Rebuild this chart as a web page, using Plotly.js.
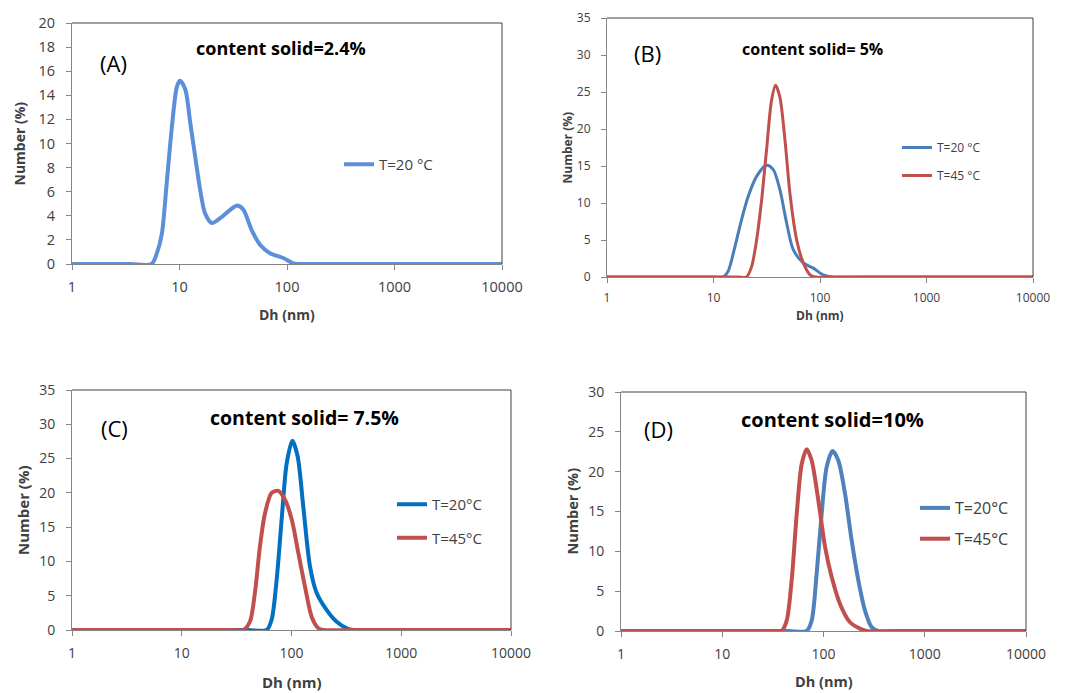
<!DOCTYPE html>
<html>
<head>
<meta charset="utf-8">
<script src="https://cdn.plot.ly/plotly-3.0.1.min.js"></script>
<style>html,body{margin:0;padding:0;background:#fff;}#chart{width:1069px;height:693px;}</style>
</head>
<body>
<div id="chart"></div>
<script>
// Panel A (content solid = 2.4%), T = 20 °C
const dhA_20 = [1, 2, 3.5, 5.5, 6.16, 6.85, 7.6, 8.5, 9.45, 10.1, 11.3, 12.6, 14, 15.6, 17.3, 20, 23.9, 29.6, 34.6, 39.3, 47, 56.1, 69.5, 92.4, 114.6, 132, 250, 600, 1500, 4000, 10000];
const numA_20 = [0, 0, 0, 0, 0.9, 2.5, 6.7, 11.4, 14.7, 15.2, 14.5, 11.7, 8.9, 6.1, 4.2, 3.4, 3.8, 4.5, 4.85, 4.5, 2.8, 1.6, 0.9, 0.5, 0.05, 0, 0, 0, 0, 0, 0];

// Panel B (content solid = 5%)
const dhB_20 = [1, 2.5, 6, 10, 12.3, 13.7, 15.9, 18.3, 21.2, 25.4, 31.5, 36.4, 42, 48.6, 56.1, 69.7, 86.5, 107, 133, 250, 600, 1500, 4000, 10000];
const numB_20 = [0, 0, 0, 0, 0, 0.76, 4.1, 7.7, 10.9, 13.6, 15.1, 14.5, 11.8, 7.3, 3.7, 1.9, 1.2, 0.3, 0, 0, 0, 0, 0, 0];
const dhB_45 = [1, 2.5, 6, 12, 17, 20.4, 22.8, 25.4, 28.3, 31.5, 35.1, 38.3, 42, 46.9, 52.2, 60.4, 69.7, 80.5, 89.7, 150, 400, 1000, 3000, 10000];
const numB_45 = [0, 0, 0, 0, 0, 0, 1.4, 5.0, 10.4, 17.2, 23.9, 25.9, 24.3, 18.5, 11.3, 5.0, 1.9, 0.3, 0, 0, 0, 0, 0, 0];

// Panel C (content solid = 7.5%)
const dhC_20 = [1, 3, 8, 20, 40, 59.3, 65.9, 73.2, 81.3, 90.4, 101.9, 113.8, 128, 147.5, 169.7, 209.5, 258, 318.8, 366, 700, 1500, 4000, 10000];
const numC_20 = [0, 0, 0, 0, 0, 0, 1.5, 7.3, 16.1, 24.3, 27.6, 25.3, 18.0, 9.25, 5.4, 2.9, 1.2, 0.25, 0, 0, 0, 0, 0];
const dhC_45 = [1, 3, 8, 20, 30, 36.3, 41.8, 46.4, 51.6, 57.3, 65.9, 75.9, 87.3, 100.5, 115.5, 132.8, 152.8, 175.8, 195, 350, 900, 3000, 10000];
const numC_45 = [0, 0, 0, 0, 0, 0, 1.2, 5.4, 12.2, 17.0, 20.0, 20.3, 19.0, 16.1, 11.2, 6.3, 1.9, 0.25, 0, 0, 0, 0, 0];

// Panel D (content solid = 10%)
const dhD_20 = [1, 3, 8, 20, 45, 68.2, 76.4, 85.6, 95.9, 107.5, 123, 140, 162.8, 189.6, 220.6, 256.7, 298.5, 347.5, 700, 1500, 4000, 10000];
const numD_20 = [0, 0, 0, 0, 0, 0, 1.3, 7.2, 14.7, 20.6, 22.6, 21.4, 17.3, 11.4, 6.4, 2.6, 0.5, 0, 0, 0, 0, 0];
const dhD_45 = [1, 3, 8, 20, 32, 38.5, 43.3, 48.5, 54.4, 61, 68.3, 76.4, 88.9, 103.5, 120.3, 145.5, 182.7, 229, 267, 500, 1200, 3500, 10000];
const numD_45 = [0, 0, 0, 0, 0, 0, 1.3, 6.4, 14.7, 21.0, 22.8, 21.4, 16.4, 10.6, 6.8, 3.4, 1.1, 0.3, 0, 0, 0, 0, 0];

const panelLabels = ['(A)', '(B)', '(C)', '(D)'];
const panelTitles = ['content solid=2.4%', 'content solid= 5%', 'content solid= 7.5%', 'content solid=10%'];
const legendNames = [['T=20 °C'], ['T=20 °C', 'T=45 °C'], ['T=20°C', 'T=45°C'], ['T=20°C', 'T=45°C']];
const yMax = [20, 35, 35, 30];
const yStep = [2, 5, 5, 5];
const xTickVals = [1, 10, 100, 1000, 10000];
const xTickText = ['1', '10', '100', '1000', '10000'];
const xTitle = 'Dh (nm)';
const yTitle = 'Number (%)';

const W = 1069, H = 693;
const FONT = '"Open Sans", Lato, sans-serif';
const TXT = '#404040';
// plot boxes in pixels: [left, right, top, bottom]
const boxes = [[72, 502, 23, 264], [607, 1033, 18, 277], [72, 511, 390, 630], [621, 1026, 392, 631]];
const tickSize = [14.5, 12, 14, 14];
const axTitleSize = [14, 12, 15, 14.5];
const titleSize = [18, 16, 19.5, 20];
const legendSize = [15, 12, 15, 16];
const legendPos = [[339, 148], [897, 133], [392, 488], [915, 491]];
const legendGap = [0, 9, 11, 7];
const blue = ['#5B8FD9', '#4A7EBB', '#0070C0', '#4F81BD'];
const red = '#C0504D';
const lw = [4, 3, 4, 4];

const series = [
  [[dhA_20, numA_20]],
  [[dhB_20, numB_20], [dhB_45, numB_45]],
  [[dhC_20, numC_20], [dhC_45, numC_45]],
  [[dhD_20, numD_20], [dhD_45, numD_45]]
];

const data = [];
const layout = {
  width: W, height: H,
  margin: {l: 0, r: 0, t: 0, b: 0},
  paper_bgcolor: '#fff', plot_bgcolor: '#fff',
  font: {family: FONT, color: TXT},
  showlegend: true,
  annotations: [], shapes: []
};

const xTitlePos = [314, 316, 682, 681];
const yTitlePos = [19, 567, 23, 572];

for (let p = 0; p < 4; p++) {
  const [l, r, t, b] = boxes[p];
  const sfx = p === 0 ? '' : String(p + 1);
  const xa = 'x' + sfx, ya = 'y' + sfx;
  const leg = 'legend' + sfx;
  series[p].forEach((s, i) => {
    data.push({
      x: s[0], y: s[1], type: 'scatter', mode: 'lines',
      name: legendNames[p][i], showlegend: true,
      xaxis: xa, yaxis: ya, legend: leg,
      legendgroup: 'g' + p + '_' + i,
      line: {color: i === 0 ? blue[p] : red, width: lw[p], shape: 'spline', smoothing: 0.8}
    });
  });
  const axisCommon = {
    showgrid: false, zeroline: false, showline: true, linecolor: '#868686', linewidth: 1,
    ticks: 'outside', ticklen: 5, tickcolor: '#868686',
    tickfont: {family: FONT, size: tickSize[p], color: TXT}
  };
  layout['xaxis' + sfx] = Object.assign({}, axisCommon, {
    type: 'log', range: [0, 4], anchor: ya,
    domain: [l / W, r / W],
    tickvals: xTickVals, ticktext: xTickText, ticklabelstandoff: 5
  });
  layout['yaxis' + sfx] = Object.assign({}, axisCommon, {
    range: [0, yMax[p]], anchor: xa, dtick: yStep[p], tick0: 0,
    domain: [1 - b / H, 1 - t / H], ticklabelstandoff: 8
  });
  layout[leg] = {
    x: legendPos[p][0] / W, y: 1 - legendPos[p][1] / H, xanchor: 'left', yanchor: 'top',
    bgcolor: 'rgba(0,0,0,0)', font: {family: FONT, size: legendSize[p], color: TXT},
    tracegroupgap: legendGap[p], traceorder: 'grouped'
  };
  // frame (top & right)
  layout.shapes.push({type: 'line', xref: xa + ' domain', yref: ya + ' domain', x0: 0, x1: 1, y0: 1, y1: 1, line: {color: '#404040', width: 1}});
  layout.shapes.push({type: 'line', xref: xa + ' domain', yref: ya + ' domain', x0: 1, x1: 1, y0: 0, y1: 1, line: {color: '#404040', width: 1}});
  // axis titles
  layout.annotations.push({text: '<b>' + xTitle + '</b>', xref: 'paper', yref: 'paper',
    x: ((l + r) / 2) / W, y: 1 - xTitlePos[p] / H, xanchor: 'center', yanchor: 'middle', showarrow: false,
    font: {family: FONT, size: axTitleSize[p], color: TXT}});
  layout.annotations.push({text: '<b>' + yTitle + '</b>', xref: 'paper', yref: 'paper', textangle: -90,
    x: yTitlePos[p] / W, y: 1 - ((t + b) / 2) / H, xanchor: 'center', yanchor: 'middle', showarrow: false,
    font: {family: FONT, size: axTitleSize[p], color: TXT}});
}

const titlePos = [[281, 48], [812, 49], [304, 417], [832, 419]];
const labelPos = [[113, 63], [647, 53], [114, 428], [658, 429]];
for (let p = 0; p < 4; p++) {
  layout.annotations.push({text: '<b>' + panelTitles[p] + '</b>', xref: 'paper', yref: 'paper',
    x: titlePos[p][0] / W, y: 1 - titlePos[p][1] / H, xanchor: 'center', yanchor: 'middle', showarrow: false,
    font: {family: FONT, size: titleSize[p], color: '#000'}});
  layout.annotations.push({text: panelLabels[p], xref: 'paper', yref: 'paper',
    x: labelPos[p][0] / W, y: 1 - labelPos[p][1] / H, xanchor: 'center', yanchor: 'middle', showarrow: false,
    font: {family: FONT, size: 22, color: '#000'}});
}

Plotly.newPlot('chart', data, layout, {displayModeBar: false, staticPlot: true});
</script>
</body>
</html>
